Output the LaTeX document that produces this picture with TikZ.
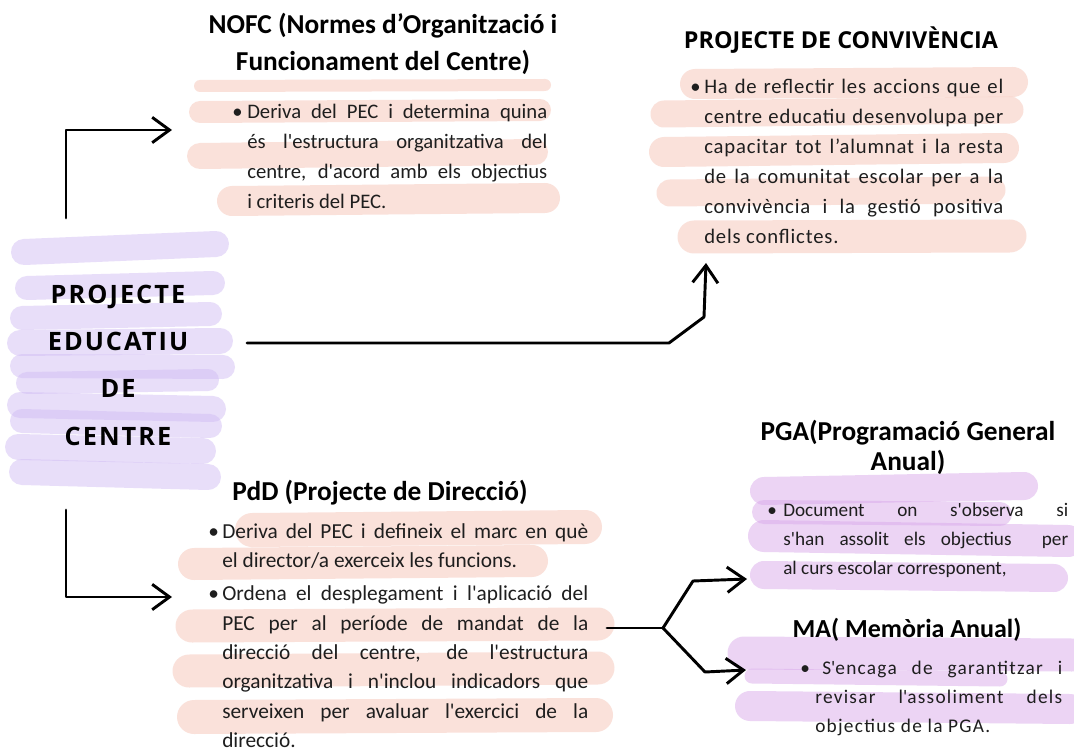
\documentclass[tikz,border=0pt]{standalone}
\usepackage{fontspec}
\setmainfont{Carlito}
\newfontfamily\osb[LetterSpace=8]{Open Sans}
\newfontfamily\osh{Open Sans}
\newfontfamily\lsa[LetterSpace=4]{Carlito}
\newfontfamily\lsb[LetterSpace=6.5]{Carlito}
\usetikzlibrary{arrows.meta}
\definecolor{pinkc}{RGB}{245,190,175}
\definecolor{lavc}{RGB}{210,190,245}
\definecolor{magc}{RGB}{218,170,235}
\definecolor{txt}{RGB}{30,30,30}
\newcommand{\sq}{\textquotesingle}
\newcommand{\bul}[1]{\noindent\hangindent=#1\hangafter=1\makebox[#1][l]{\textbullet}}
\begin{document}
\begin{tikzpicture}[x=0.75pt,y=-0.75pt,
  hlp/.style={draw=pinkc, draw opacity=0.45, line cap=round, line width=#1*0.75pt},
  hll/.style={draw=lavc, draw opacity=0.5, line cap=round, line width=#1*0.75pt},
  hlm/.style={draw=magc, draw opacity=0.5, line cap=round, line width=#1*0.75pt},
  body/.style={inner sep=0pt, anchor=north west, align=justify, text=txt, font=\fontsize{15.5}{22.5}\selectfont},
  head/.style={inner sep=0pt, align=center, font=\fontsize{20.5}{28}\selectfont\bfseries},
  arr/.style={line width=2.2pt, line cap=round, line join=round, -{Straight Barb[length=13pt,width=19pt]}},
  plainline/.style={line width=2.2pt, line cap=round, line join=round}]
\useasboundingbox (0,0) rectangle (1074,752);
\fill[white] (0,0) rectangle (1074,752);
% ---- NOFC highlights
\draw[hlp=12] (200,86) -- (545,85);
\draw[hlp=22] (200,112) -- (540,110);
\draw[hlp=26] (200,156) -- (535,152);
\draw[hlp=30] (232,201) -- (545,198);
% ---- Convivencia highlights
\draw[hlp=30] (695,84) -- (1013,82);
\draw[hlp=27] (664,114) -- (1010,110);
\draw[hlp=30] (664,152) -- (1004,148);
\draw[hlp=27] (670,193) -- (992,190);
\draw[hlp=33] (694,237) -- (1010,236);
% ---- PEC highlights
\draw[hll=26] (24,252) -- (216,244);
\draw[hll=24] (27,288) -- (213,283);
\draw[hll=24] (22,318) -- (210,314);
\draw[hll=26] (20,343) -- (220,341);
\draw[hll=24] (22,366) -- (223,367);
\draw[hll=22] (27,383) -- (208,380);
\draw[hll=26] (20,405) -- (213,409);
\draw[hll=24] (22,421) -- (210,426);
\draw[hll=26] (18,447) -- (203,451);
\draw[hll=26] (22,472) -- (208,477);
% ---- PdD highlights
\draw[hlp=34] (252,530) -- (585,527);
\draw[hlp=32] (194,564) -- (532,561);
\draw[hlp=33] (192,626) -- (598,624);
\draw[hlp=33] (189,671) -- (598,668);
\draw[hlp=34] (194,717) -- (596,715);
% ---- PGA highlights
\draw[hlm=28] (764,491) -- (1024,486);
\draw[hlm=24] (764,512) -- (1000,514);
\draw[hlm=32] (764,536) -- (1068,541);
\draw[hlm=28] (764,575) -- (1054,578);
% ---- MA highlights
\draw[hlm=33] (744,653) -- (1072,655);
\draw[hlm=15] (752,676) -- (1000,679);
\draw[hlm=30] (750,706) -- (1070,709);
% ---- nodes
\node[head] (nofcH) at (383,44) {NOFC (Normes d’Organització i\\Funcionament del Centre)};
\node[body, text width=236.25pt] (nofcT) at (232,104) {\bul{11.25pt}Deriva del PEC i determina quina\linebreak és l\sq estructura organitzativa del\linebreak centre, d\sq acord amb els objectius\linebreak i criteris del PEC.\par};
\node[head, font=\osh\fontsize{17.5}{20}\selectfont\bfseries] (convH) at (841,40) {PROJECTE DE CONVIVÈNCIA};
\node[body, text width=234.75pt, font=\lsa\fontsize{15.5}{22.5}\selectfont] (convT) at (690,79) {\bul{10.5pt}Ha de reflectir les accions que el\linebreak centre educatiu desenvolupa per\linebreak capacitar tot l’alumnat i la resta\linebreak de la comunitat escolar per a la\linebreak convivència i la gestió positiva\linebreak dels conflictes.\par};
\node[inner sep=0pt, align=center, font=\osb\fontsize{19}{35.5}\selectfont\bfseries] (pec) at (118,365) {PROJECTE\\EDUCATIU\\DE\\CENTRE};
\node[head] (pddH) at (380,493) {PdD (Projecte de Direcció)};
\node[body, text width=285pt, font=\fontsize{16}{22}\selectfont] (pddT) at (208,523) {\bul{10.5pt}Deriva del PEC i defineix el marc en què\linebreak el director/a exerceix les funcions.\par\vspace{3pt}\bul{10.5pt}Ordena el desplegament i l\sq aplicació del\linebreak PEC per al període de mandat de la\linebreak direcció del centre, de l\sq estructura\linebreak organitzativa i n\sq inclou indicadors que\linebreak serveixen per avaluar l\sq exercici de la\linebreak direcció.\par};
\node[head, font=\fontsize{20.5}{22.5}\selectfont\bfseries] (pgaH) at (908,447) {PGA(Programació General\\Anual)};
\node[body, text width=225.75pt, font=\fontsize{14.4}{21.75}\selectfont] (pgaT) at (767,503) {\bul{12pt}Document on s\sq observa si\linebreak s\sq han assolit els objectius\ \ per\linebreak al curs escolar corresponent,\par};
\node[head, font=\fontsize{19.5}{22.5}\selectfont\bfseries] (maH) at (907,630) {MA( Memòria Anual)};
\node[body, text width=196.5pt, font=\lsb\fontsize{14.5}{21.75}\selectfont] (maT) at (800,661) {\noindent\hangindent=11.25pt\hangafter=1\makebox[16.5pt][l]{\textbullet}S\sq encaga de garantitzar i\linebreak revisar l\sq assoliment dels\linebreak objectius de la PGA.\par};
% ---- connectors
\coordinate (a1s) at (66,218);
\coordinate (a1e) at (172,130);
\draw[arr] (a1s) |- (a1e);
\coordinate (a2s) at (247,343);
\coordinate (a2k1) at (669,343);
\coordinate (a2k2) at (704,317);
\coordinate (a2e) at (706,263);
\draw[arr] (a2s) -- (a2k1) -- (a2k2) -- (a2e);
\coordinate (a3s) at (66,510);
\coordinate (a3e) at (172,597);
\draw[arr] (a3s) |- (a3e);
\coordinate (fs) at (607,628);
\coordinate (fj) at (663,628);
\coordinate (fu) at (693,581);
\coordinate (fue) at (747,579);
\coordinate (fd) at (705,672);
\coordinate (fde) at (746,670);
\draw[plainline] (fs) -- (fj);
\draw[arr] (fj) -- (fu) -- (fue);
\draw[arr] (fj) -- (fd) -- (fde);
\end{tikzpicture}
\end{document}
